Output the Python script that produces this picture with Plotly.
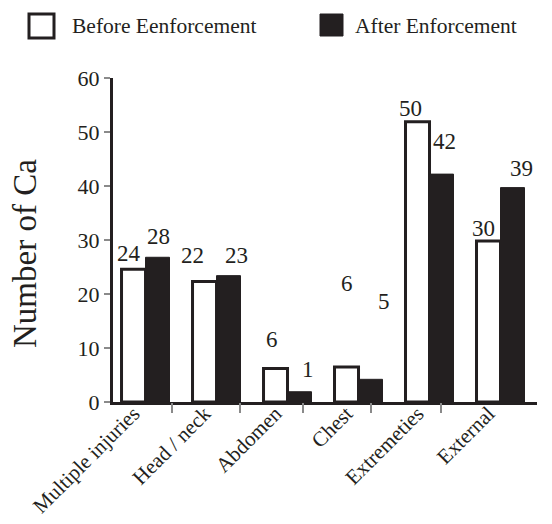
import plotly.graph_objects as go

# ---- data ----
categories = ["Multiple injuries", "Head / neck", "Abdomen", "Chest", "Extremeties", "External"]
before_heights = [24.6, 22.3, 6.2, 6.5, 51.9, 29.8]
after_heights = [26.8, 23.4, 1.9, 4.2, 42.2, 39.7]
before_labels = ["24", "22", "6", "6", "50", "30"]
after_labels = ["28", "23", "1", "5", "42", "39"]
y_ticks = [0, 10, 20, 30, 40, 50, 60]
x_divider_ticks = [0.373, 1.331, 2.218, 3.176, 4.162]  # separator tick marks between groups
series_names = ["Before Eenforcement", "After Enforcement"]
y_title = "Number of Ca"

# ---- style ----
DARK = "#231f20"
GRAY = "#8a8a8a"
FONT = "Liberation Serif"
OFF = 8  # page body margin
W, H = 552 - OFF, 524 - OFF
L, R, T, B = 113, 537, 78, 402  # plot area in window pixels
X_RANGE = [-0.458, 5.514]

# label offsets (pixels) relative to each bar: horizontal, vertical gap
DX_BEFORE = [-5, -12, -4, 0, -7, -5]
DX_AFTER = [1, 8, 8, 13, 3, 9]
GAP_BEFORE = [7, 18, 21, 75, 5, 4]
GAP_AFTER = [12, 12, 14, 69, 24, 11]
BAR_HALF = 12


def px(x):
    return (x - L) / (R - L)


def py(y):
    return (B - y) / (B - T)


fig = go.Figure()
fig.add_bar(x=categories, y=before_heights, name=series_names[0],
            marker=dict(color="white", line=dict(color=DARK, width=3)))
fig.add_bar(x=categories, y=after_heights, name=series_names[1],
            marker=dict(color=DARK, line=dict(color=DARK, width=1)))

annotations = []
for i, c in enumerate(categories):
    annotations.append(dict(x=c, y=before_heights[i], xref="x", yref="y", text=before_labels[i],
                            showarrow=False, yanchor="bottom", xanchor="center",
                            xshift=-BAR_HALF + DX_BEFORE[i], yshift=GAP_BEFORE[i] - 6,
                            font=dict(family=FONT, size=23, color=DARK)))
    annotations.append(dict(x=c, y=after_heights[i], xref="x", yref="y", text=after_labels[i],
                            showarrow=False, yanchor="bottom", xanchor="center",
                            xshift=BAR_HALF + DX_AFTER[i], yshift=GAP_AFTER[i] - 6,
                            font=dict(family=FONT, size=23, color=DARK)))

# y-axis title
annotations.append(dict(x=px(25), y=py(254), xref="paper", yref="paper", text=y_title,
                        textangle=-90, showarrow=False, xanchor="center", yanchor="middle",
                        font=dict(family=FONT, size=33, color=DARK)))
# custom legend text
annotations.append(dict(x=px(70), y=py(26), xref="paper", yref="paper", text=series_names[0],
                        showarrow=False, xanchor="left", yanchor="middle",
                        font=dict(family=FONT, size=21.5, color=DARK)))
annotations.append(dict(x=px(353), y=py(26), xref="paper", yref="paper", text=series_names[1],
                        showarrow=False, xanchor="left", yanchor="middle",
                        font=dict(family=FONT, size=21.5, color=DARK)))

shapes = [
    dict(type="rect", xref="paper", yref="paper", x0=px(29), x1=px(54), y0=py(38), y1=py(14),
         line=dict(color=DARK, width=3), fillcolor="white"),
    dict(type="rect", xref="paper", yref="paper", x0=px(320), x1=px(343), y0=py(36), y1=py(14),
         line=dict(color=DARK, width=1), fillcolor=DARK),
]

fig.update_layout(
    width=W, height=H,
    margin=dict(l=L - OFF, r=552 - R, t=T - OFF, b=524 - B, autoexpand=False),
    paper_bgcolor="white", plot_bgcolor="white",
    barmode="group", bargap=0.324, bargroupgap=0,
    showlegend=False,
    annotations=annotations, shapes=shapes,
    font=dict(family=FONT, color=DARK),
    xaxis=dict(
        type="category", range=X_RANGE, showline=True, linecolor=DARK, linewidth=3,
        ticks="", tickangle=-45, tickfont=dict(family=FONT, size=21, color=DARK),
        showgrid=False, ticklabelstandoff=-12, ticklabelshift=-12, automargin=False,
    ),
    xaxis2=dict(
        overlaying="x", anchor="y", side="bottom", range=X_RANGE, tickvals=x_divider_ticks,
        showticklabels=False, ticks="outside", ticklen=10, tickcolor=GRAY, tickwidth=1.5,
        showgrid=False, zeroline=False, showline=False,
    ),
    yaxis=dict(
        range=[0, 60], tickvals=y_ticks, showline=True, linecolor=DARK, linewidth=3,
        ticks="outside", ticklen=6, tickcolor=GRAY, tickwidth=2,
        tickfont=dict(family=FONT, size=22, color=DARK), showgrid=False, zeroline=False,
        automargin=False,
    ),
)
# invisible helper trace so the divider-tick axis is drawn
fig.add_scatter(x=[X_RANGE[0]], y=[0], xaxis="x2", yaxis="y", mode="markers",
                marker=dict(opacity=0), showlegend=False, hoverinfo="skip")

fig.write_html("out.html")
